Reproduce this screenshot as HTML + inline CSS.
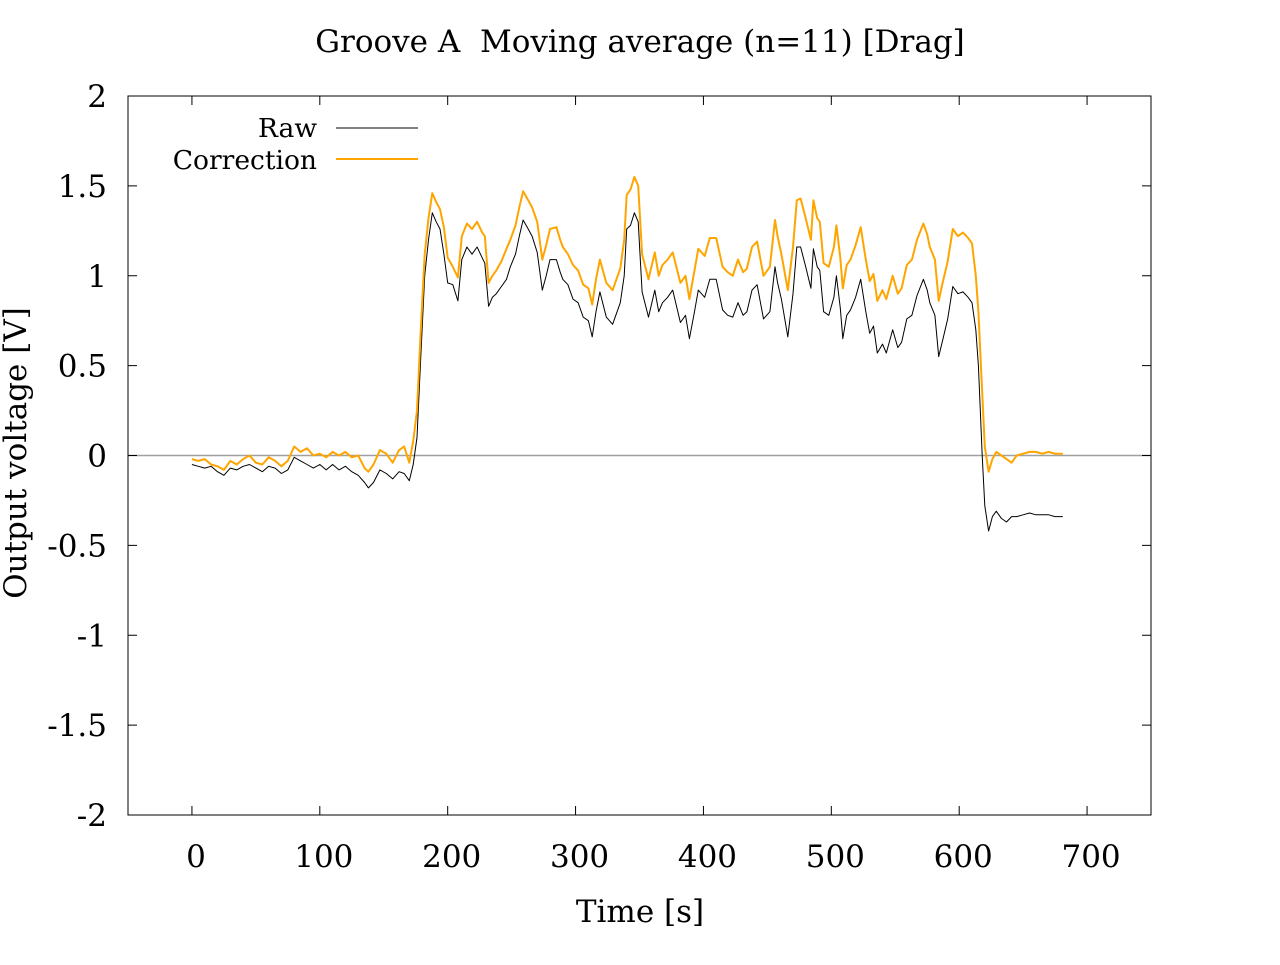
<!DOCTYPE html>
<html><head><meta charset="utf-8"><style>
body{margin:0;background:#fff}
svg text{font-family:"DejaVu Serif","Liberation Serif",serif;fill:#000}
</style></head><body>
<svg id="chart" width="1280" height="960" xmlns="http://www.w3.org/2000/svg">
<rect width="1280" height="960" fill="#fff"/>
<g id="ax"></g><g id="lines"></g>
</svg>
<script>
const times=[0,5,10,15,20,25,30,35,40,45,50,55,60,65,70,75,80,85,90,95,100,105,110,115,120,125,130,135,138,142,147,152,157,162,166,170,173,176,179,182,185,188,191,194,197,200,204,208,211,215,219,223,227,229,232,235,238,242,246,249,253,256,259,263,266,270,274,277,280,285,288,290,294,298,302,306,310,313,316,319,324,329,335,338,340,343,346,349,352,357,362,365,368,372,376,382,386,389,393,396,401,405,410,415,419,423,427,431,434,438,442,447,452,456,458,461,466,470,473,476,480,484,486,489,491,494,498,502,504,507,509,512,515,519,523,527,530,533,536,540,543,548,552,555,559,563,567,572,575,577,581,584,587,591,595,599,603,607,610,613,615,618,620,623,626,629,633,637,641,645,650,655,660,665,670,675,681];
const rawValues=[-0.05,-0.06,-0.07,-0.06,-0.09,-0.11,-0.07,-0.08,-0.06,-0.05,-0.07,-0.09,-0.06,-0.07,-0.10,-0.08,-0.01,-0.03,-0.05,-0.07,-0.05,-0.08,-0.05,-0.08,-0.06,-0.09,-0.11,-0.15,-0.18,-0.15,-0.08,-0.10,-0.13,-0.09,-0.10,-0.14,-0.05,0.1,0.55,1.0,1.2,1.35,1.3,1.26,1.12,0.96,0.95,0.86,1.09,1.16,1.12,1.16,1.10,1.07,0.83,0.88,0.90,0.94,0.98,1.05,1.12,1.22,1.31,1.26,1.22,1.13,0.92,1.0,1.09,1.09,1.02,0.98,0.95,0.87,0.85,0.77,0.75,0.66,0.80,0.91,0.77,0.73,0.85,1.0,1.26,1.28,1.35,1.3,0.91,0.77,0.92,0.80,0.85,0.88,0.92,0.74,0.78,0.65,0.80,0.92,0.88,0.98,0.98,0.81,0.78,0.77,0.85,0.78,0.80,0.92,0.95,0.76,0.80,1.05,0.96,0.87,0.66,0.90,1.16,1.16,1.05,0.93,1.15,1.05,1.03,0.80,0.78,0.88,1.0,0.82,0.65,0.78,0.81,0.88,0.98,0.80,0.68,0.72,0.57,0.62,0.57,0.70,0.60,0.63,0.76,0.78,0.89,0.98,0.92,0.85,0.78,0.55,0.64,0.76,0.94,0.90,0.91,0.88,0.85,0.70,0.50,0.0,-0.28,-0.42,-0.34,-0.31,-0.35,-0.37,-0.34,-0.34,-0.33,-0.32,-0.33,-0.33,-0.33,-0.34,-0.34];
const corrValues=[-0.02,-0.03,-0.02,-0.05,-0.06,-0.08,-0.03,-0.05,-0.02,0.00,-0.04,-0.05,-0.01,-0.03,-0.06,-0.03,0.05,0.02,0.04,0.00,0.01,-0.01,0.02,0.00,0.02,-0.01,0.00,-0.07,-0.09,-0.05,0.03,0.01,-0.04,0.03,0.05,-0.04,0.08,0.25,0.7,1.12,1.32,1.46,1.41,1.37,1.27,1.1,1.05,0.99,1.22,1.29,1.26,1.30,1.24,1.22,0.96,1.0,1.03,1.08,1.15,1.2,1.28,1.38,1.47,1.42,1.38,1.3,1.09,1.17,1.26,1.27,1.2,1.16,1.12,1.06,1.03,0.95,0.93,0.84,0.98,1.09,0.96,0.92,1.04,1.2,1.45,1.48,1.55,1.5,1.12,0.98,1.13,1.0,1.06,1.09,1.13,0.96,1.0,0.87,1.03,1.15,1.11,1.21,1.21,1.05,1.02,1.0,1.09,1.02,1.04,1.16,1.19,1.0,1.05,1.31,1.22,1.12,0.92,1.16,1.42,1.43,1.32,1.2,1.42,1.32,1.3,1.07,1.05,1.16,1.28,1.1,0.93,1.06,1.09,1.17,1.27,1.09,0.97,1.01,0.86,0.92,0.87,1.0,0.9,0.93,1.06,1.09,1.2,1.29,1.23,1.16,1.09,0.86,0.96,1.08,1.26,1.22,1.24,1.21,1.18,1.0,0.8,0.35,0.05,-0.09,-0.02,0.02,0.0,-0.02,-0.04,0.0,0.01,0.02,0.02,0.01,0.02,0.01,0.01];
const xTicks=[0,100,200,300,400,500,600,700];
const yTicks=[2,1.5,1,0.5,0,-0.5,-1,-1.5,-2];
const yTickLabels=["2","1.5","1","0.5","0","-0.5","-1","-1.5","-2"];

const L=128,R=1151,T=96,B=815,XMIN=-50,XMAX=750,YMIN=-2,YMAX=2;
const sx=v=>L+(v-XMIN)/(XMAX-XMIN)*(R-L);
const sy=v=>B-(v-YMIN)/(YMAX-YMIN)*(B-T);
const NS="http://www.w3.org/2000/svg";
function mk(tag,attrs,parent,txt){const e=document.createElementNS(NS,tag);for(const k in attrs)e.setAttribute(k,attrs[k]);if(txt!==undefined)e.textContent=txt;parent.appendChild(e);return e;}
const ax=document.getElementById('ax'),ln=document.getElementById('lines');

let zl=mk('line',{x1:L,x2:R,y1:sy(0),y2:sy(0),stroke:'#a0a0a0','stroke-width':1.5},ax);



xTicks.forEach(v=>{
  const x=sx(v);
  mk('line',{x1:x,x2:x,y1:B,y2:B-9,stroke:'#000'},ax);
  mk('line',{x1:x,x2:x,y1:T,y2:T+9,stroke:'#000'},ax);
  const t=mk('text',{x:x+4,y:867,'text-anchor':'middle','font-size':31},ax,String(v));
  
  
});
yTicks.forEach((v,i)=>{
  const y=sy(v);
  mk('line',{x1:L,x2:L+9,y1:y,y2:y,stroke:'#000'},ax);
  mk('line',{x1:R,x2:R-9,y1:y,y2:y,stroke:'#000'},ax);
  const t=mk('text',{x:107,y:y+11,'text-anchor':'end','font-size':31},ax,yTickLabels[i]);
  
  
});
const frame=mk('rect',{x:L,y:T,width:R-L,height:B-T,fill:'none',stroke:'#000','stroke-width':1},ax);



const title=mk('text',{x:640,y:52,'text-anchor':'middle','font-size':31},ax,'Groove A\u00a0 Moving average (n=11) [Drag]');


const xt=mk('text',{x:640,y:922,'text-anchor':'middle','font-size':31},ax,'Time [s]');


const yt=mk('text',{x:0,y:0,'text-anchor':'middle','font-size':31,transform:'translate(26,453) rotate(-90)'},ax,'Output voltage [V]');



function path(vals,color,w,name){
  const d=times.map((t,i)=>(i?'L':'M')+sx(t).toFixed(1)+','+sy(vals[i]).toFixed(1)).join('');
  const p=mk('path',{d:d,fill:'none',stroke:color,'stroke-width':w,'stroke-linejoin':'round'},ln);
  
  
}
path(rawValues,'#000',1,'raw-series');
path(corrValues,'#ffa500',2,'correction-series');

const l1=mk('text',{x:317,y:137,'text-anchor':'end','font-size':26.5},ax,'Raw');


const s1=mk('line',{x1:336,x2:418,y1:128,y2:128,stroke:'#000','stroke-width':1},ax);


const l2=mk('text',{x:317,y:169,'text-anchor':'end','font-size':26.5},ax,'Correction');


const s2=mk('line',{x1:336,x2:418,y1:159,y2:159,stroke:'#ffa500','stroke-width':2},ax);


</script>
</body></html>
